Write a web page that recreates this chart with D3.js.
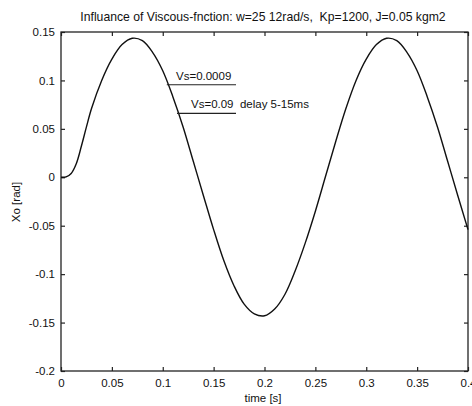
<!DOCTYPE html>
<html><head><meta charset="utf-8">
<script src="https://cdn.jsdelivr.net/npm/d3@7"></script>
<style>body{margin:0;background:#fff}svg{display:block}text{font-family:"Liberation Sans",Arial,sans-serif;fill:#111;white-space:pre}</style>
</head><body>
<script>
const timeValues = [0,0.005,0.01,0.015,0.02,0.025,0.03,0.04,0.05,0.06,0.07,0.08,0.09,0.10,0.11,0.12,0.13,0.14,0.15,0.16,0.17,0.18,0.19,0.20,0.21,0.22,0.23,0.24,0.25,0.26,0.27,0.28,0.29,0.30,0.31,0.32,0.33,0.34,0.35,0.36,0.37,0.38,0.39,0.40];
const xoValues = [0,0.0005,0.004,0.014,0.032,0.052,0.071,0.1,0.122,0.137,0.1435,0.141,0.129,0.110,0.083,0.052,0.0165,-0.019,-0.054,-0.086,-0.112,-0.131,-0.141,-0.143,-0.136,-0.121,-0.097,-0.068,-0.035,0.001,0.037,0.071,0.100,0.122,0.137,0.1435,0.141,0.129,0.110,0.083,0.052,0.0165,-0.019,-0.054];
const xTicks = [0,0.05,0.1,0.15,0.2,0.25,0.3,0.35,0.4];
const xTickLabels = ["0","0.05","0.1","0.15","0.2","0.25","0.3","0.35","0.4"];
const yTicks = [0.15,0.1,0.05,0,-0.05,-0.1,-0.15,-0.2];
const yTickLabels = ["0.15","0.1","0.05","0","-0.05","-0.1","-0.15","-0.2"];
const titleText = "Influance of Viscous-fnction: w=25 12rad/s,  Kp=1200, J=0.05 kgm2";
const annotations = [
  {text:"Vs=0.0009", t:0.104, v:0.0955},
  {text:"Vs=0.09  delay 5-15ms", t:0.114, v:0.066}
];

const W=472,H=406;
const m={l:61,r:4,t:32,b:35};
const svg=d3.select("body").append("svg").attr("width",W).attr("height",H);
const x=d3.scaleLinear().domain([0,0.4]).range([m.l,W-m.r]);
const y=d3.scaleLinear().domain([-0.2,0.15]).range([H-m.b,m.t]);

const fmtX=(d,i)=>xTickLabels[i];
const fmtY=(d,i)=>yTickLabels[i];
const g=svg.append("g");
g.append("g").attr("transform",`translate(0,${H-m.b})`)
 .call(d3.axisBottom(x).tickValues(xTicks).tickFormat(fmtX).tickSizeInner(-4).tickSizeOuter(0).tickPadding(8));
g.append("g").attr("transform",`translate(0,${m.t})`)
 .call(d3.axisTop(x).tickValues(xTicks).tickFormat("").tickSizeInner(-4).tickSizeOuter(0));
g.append("g").attr("transform",`translate(${m.l},0)`)
 .call(d3.axisLeft(y).tickValues(yTicks).tickFormat(fmtY).tickSizeInner(-4).tickSizeOuter(0).tickPadding(6));
g.append("g").attr("transform",`translate(${W-m.r},0)`)
 .call(d3.axisRight(y).tickValues(yTicks).tickFormat("").tickSizeInner(-4).tickSizeOuter(0));
g.selectAll(".domain").remove();
g.selectAll(".tick line").attr("stroke","#222").attr("stroke-width",1.2);
g.selectAll(".tick text").style("font-size","11.5px").style("font-family","Liberation Sans, Arial, sans-serif").attr("fill","#111");
g.append("rect").attr("x",m.l).attr("y",m.t).attr("width",W-m.r-m.l).attr("height",H-m.b-m.t)
 .attr("fill","none").attr("stroke","#222").attr("stroke-width",1.3);

const data=timeValues.map((t,i)=>({t,v:xoValues[i]}));
svg.append("path").datum(data)
 .attr("d",d3.line().x(d=>x(d.t)).y(d=>y(d.v)).curve(d3.curveCatmullRom))
 .attr("fill","none").attr("stroke","#111").attr("stroke-width",1.4);

svg.append("text").attr("x",263).attr("y",21).attr("text-anchor","middle").style("font-size","12.2px").text(titleText);
svg.append("text").attr("x",263).attr("y",402).attr("text-anchor","middle").style("font-size","11.5px").text("time [s]");
svg.append("text").attr("transform","translate(20,202) rotate(-90)").attr("text-anchor","middle").style("font-size","11.5px").text("Xo [rad]");

// annotations
const a1=annotations[0], a2=annotations[1];
svg.append("text").attr("x",176).attr("y",80).style("font-size","11.5px").text(a1.text);
svg.append("line").attr("x1",x(a1.t)).attr("x2",236).attr("y1",y(a1.v)).attr("y2",y(a1.v)).attr("stroke","#222").attr("stroke-width",1.1);
svg.append("text").attr("x",191).attr("y",108).style("font-size","11.5px").text(a2.text);
svg.append("line").attr("x1",x(a2.t)).attr("x2",236).attr("y1",y(a2.v)).attr("y2",y(a2.v)).attr("stroke","#222").attr("stroke-width",1.1);
</script>
</body></html>
